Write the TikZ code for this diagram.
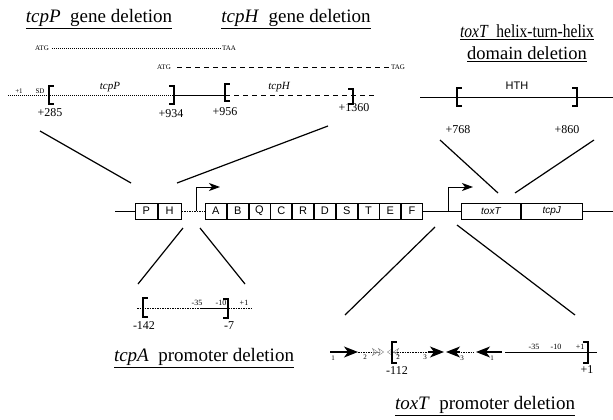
\documentclass[tikz,border=0pt]{standalone}
\usepackage{fontspec}
\setmainfont{Liberation Serif}
\setsansfont{Liberation Sans}
\usetikzlibrary{arrows.meta}
\begin{document}
\begin{tikzpicture}[x=1pt,y=-1pt,
  title/.style={font=\fontsize{19}{22}\selectfont, inner sep=0pt, align=center},
  tiny/.style={font=\fontsize{7}{8}\selectfont, inner sep=0pt},
  lab/.style={font=\fontsize{11}{12}\selectfont\itshape, inner sep=0pt},
  num/.style={font=\fontsize{12}{13}\selectfont, inner sep=0pt},
  prom/.style={font=\fontsize{8}{9}\selectfont, inner sep=0pt},
  gbox/.style={draw, line width=0.8pt, minimum height=16pt, inner sep=0pt, font=\sffamily\fontsize{11}{12}\selectfont, anchor=west},
  brk/.style={line width=1.8pt},
  expand/.style={line width=1.2pt},
  dnaline/.style={line width=0.8pt},
  dotline/.style={line width=0.8pt, dash pattern=on 1.5pt off 1pt},
  bigtip/.style={-{Stealth[length=11pt,width=8pt,inset=3pt]}},
  boldtip/.style={-{Stealth[length=14pt,width=11pt,inset=4pt]}},
  boldtipl/.style={{Stealth[length=14pt,width=11pt,inset=4pt]}-},
  opentip/.style={-{Stealth[open,length=6pt,width=8pt]Stealth[open,length=6pt,width=8pt]}, gray},
  opentipl/.style={{Stealth[open,length=6pt,width=8pt]Stealth[open,length=6pt,width=8pt]}-, gray},
]
\useasboundingbox (0,0) rectangle (613,420);

% ---------- titles ----------
\node[title] (t1) at (99,19) {\underline{\textit{tcpP}\ \ gene deletion}};
\node[title] (t2) at (296,19) {\underline{\textit{tcpH}\ \ gene deletion}};
\node[title, font=\fontsize{18.5}{21}\selectfont] (t3) at (527,43) {\underline{\scalebox{0.84}[1]{\textit{toxT}\ \ helix-turn-helix}}\\[1pt]\underline{domain deletion}};
\node[title] (t4) at (204,358) {\underline{\textit{tcpA}\ \ promoter deletion}};
\node[title] (t5) at (485,406) {\underline{\textit{toxT}\ \ promoter deletion}};

% ---------- tcpP / tcpH region ----------
\node[tiny] (atg1) at (42,48) {ATG};
\node[tiny] (taa) at (229,48) {TAA};
\draw[line width=0.6pt, dash pattern=on 1pt off 1pt] ([xshift=3pt]atg1.east) -- ([xshift=-1pt]taa.west);
\node[tiny] (atg2) at (164,67) {ATG};
\node[tiny] (tag) at (398,67) {TAG};
\draw[line width=0.7pt, dash pattern=on 5pt off 4pt] ([xshift=6pt]atg2.east) -- ([xshift=-2pt]tag.west);

\coordinate (m0) at (8,95);
\coordinate (b285) at (49,95);
\coordinate (b934) at (174,95);
\coordinate (b956) at (225,95);
\coordinate (b1360) at (353,95);
\coordinate (m1) at (375,95);
\draw[line width=0.8pt, dash pattern=on 1pt off 1pt] (m0) -- (b934);
\draw[line width=1pt] (b934) -- (b956);
\draw[line width=0.8pt, dash pattern=on 5pt off 4pt] (b956) -- (m1);
\node[tiny] (p1) at (19,91) {+1};
\node[tiny] (sd) at (40,91) {SD};
\draw[brk] ([xshift=5pt,yshift=-9pt]b285) -- ([yshift=-9pt]b285) -- ([yshift=9pt]b285) -- ([xshift=5pt,yshift=9pt]b285);
\draw[brk] ([xshift=-5pt,yshift=-9pt]b934) -- ([yshift=-9pt]b934) -- ([yshift=9pt]b934) -- ([xshift=-5pt,yshift=9pt]b934);
\draw[brk] ([xshift=5pt,yshift=-6pt]b956) -- ([yshift=-6pt]b956) -- ([yshift=11pt]b956) -- ([xshift=5pt,yshift=11pt]b956);
\draw[brk] ([xshift=-5pt,yshift=-9pt]b1360) -- ([yshift=-9pt]b1360) -- ([yshift=6pt]b1360) -- ([xshift=-5pt,yshift=6pt]b1360);
\node[lab] (ltcpP) at (110,87) {tcpP};
\node[lab] (ltcpH) at (279,87) {tcpH};
\node[num] (n285) at (50,113) {+285};
\node[num] (n934) at (171,114) {+934};
\node[num] (n956) at (225,112) {+956};
\node[num] (n1360) at (354,108) {+1360};

% ---------- HTH region ----------
\coordinate (h0) at (420,97);
\coordinate (h1) at (613,97);
\coordinate (b768) at (457,97);
\coordinate (b860) at (577,97);
\draw[dnaline] (h0) -- (h1);
\draw[brk] ([xshift=5pt,yshift=-9pt]b768) -- ([yshift=-9pt]b768) -- ([yshift=9pt]b768) -- ([xshift=5pt,yshift=9pt]b768);
\draw[brk] ([xshift=-5pt,yshift=-9pt]b860) -- ([yshift=-9pt]b860) -- ([yshift=9pt]b860) -- ([xshift=-5pt,yshift=9pt]b860);
\node[font=\sffamily\fontsize{11}{12}\selectfont, inner sep=0pt] (hth) at (517,86) {HTH};
\node[num] (n768) at (458,130) {+768};
\node[num] (n860) at (567,130) {+860};

% ---------- operon ----------
\coordinate (o0) at (115,211);
\node[gbox, minimum width=22pt] (P) at (135,211) {P};
\node[gbox, minimum width=23pt] (H) at (P.east) {H};
\node[gbox, minimum width=21pt] (A) at (205,211) {A};
\node[gbox, minimum width=21pt] (B) at (A.east) {B};
\node[gbox, minimum width=21pt] (Q) at (B.east) {Q};
\node[gbox, minimum width=21pt] (C) at (Q.east) {C};
\node[gbox, minimum width=21pt] (R) at (C.east) {R};
\node[gbox, minimum width=21pt] (D) at (R.east) {D};
\node[gbox, minimum width=21pt] (S) at (D.east) {S};
\node[gbox, minimum width=21pt] (T) at (S.east) {T};
\node[gbox, minimum width=21pt] (E) at (T.east) {E};
\node[gbox, minimum width=21pt] (F) at (E.east) {F};
\node[gbox, minimum width=59pt, font=\sffamily\itshape\fontsize{10}{12}\selectfont] (toxT) at (461,211) {toxT};
\node[gbox, minimum width=61pt, font=\sffamily\itshape\fontsize{10}{12}\selectfont] (tcpJ) at (toxT.east) {tcpJ};
\coordinate (o1) at (613,211);
\draw[dnaline] (o0) -- (P.west);
\draw[line width=0.7pt, dash pattern=on 1.5pt off 1pt] (H.east) -- (A.west);
\draw[dnaline] (F.east) -- (toxT.west);
\draw[dnaline] (tcpJ.east) -- (o1);
% promoters
\coordinate (pr1) at (196,211);
\coordinate (pr2) at (448,211);
\draw[line width=1pt, bigtip] (pr1) -- (196,187) -- (220,187);
\draw[line width=1pt, bigtip] (pr2) -- (448,187) -- (473,187);

% ---------- expansion lines ----------
\coordinate (eA1) at (40,131);  \coordinate (eA2) at (131,183);
\coordinate (eB1) at (328,126); \coordinate (eB2) at (177,183);
\coordinate (eC1) at (440,140); \coordinate (eC2) at (498,193);
\coordinate (eD1) at (594,140); \coordinate (eD2) at (515,193);
\coordinate (eE1) at (183,228); \coordinate (eE2) at (138,284);
\coordinate (eF1) at (200,228); \coordinate (eF2) at (245,284);
\coordinate (eG1) at (435,227); \coordinate (eG2) at (345,315);
\coordinate (eH1) at (457,225); \coordinate (eH2) at (575,315);
\draw[expand] (eA1) -- (eA2);
\draw[expand] (eB1) -- (eB2);
\draw[expand] (eC1) -- (eC2);
\draw[expand] (eD1) -- (eD2);
\draw[expand] (eE1) -- (eE2);
\draw[expand] (eF1) -- (eF2);
\draw[expand] (eG1) -- (eG2);
\draw[expand] (eH1) -- (eH2);

% ---------- tcpA promoter ----------
\coordinate (a0) at (137,308);
\coordinate (b142) at (143,308);
\coordinate (a35) at (200,308);
\coordinate (b7) at (228,308);
\coordinate (a1) at (253,308);
\draw[dotline] (a0) -- (a35);
\draw[dnaline] (a35) -- (b7);
\draw[dotline] (b7) -- (a1);
\draw[brk] ([xshift=5pt,yshift=-9pt]b142) -- ([yshift=-9pt]b142) -- ([yshift=10pt]b142) -- ([xshift=5pt,yshift=10pt]b142);
\draw[brk] ([xshift=-5pt,yshift=-10pt]b7) -- ([yshift=-10pt]b7) -- ([yshift=9pt]b7) -- ([xshift=-5pt,yshift=9pt]b7);
\node[prom] (q35) at (197,303) {-35};
\node[prom] (q10) at (221,303) {-10};
\node[prom] (q1) at (244,303) {+1};
\node[num] (n142) at (144,326) {-142};
\node[num] (n7) at (229,326) {-7};

% ---------- toxT promoter ----------
\coordinate (r0) at (330,352);
\coordinate (r1) at (358,352);
\coordinate (r2) at (384,352);
\coordinate (b112) at (392,352);
\coordinate (r3) at (387,352);
\coordinate (r4) at (415,352);
\coordinate (r5) at (444,352);
\coordinate (r6) at (446,352);
\coordinate (r7) at (474,352);
\coordinate (r8) at (476,352);
\coordinate (r9) at (502,352);
\coordinate (r10) at (505,352);
\coordinate (b1) at (588,352);
\coordinate (r11) at (597,352);
\draw[line width=1.2pt, boldtip] (r0) -- (r1);
\draw[dotline] (r1) -- (375,352);
\draw[opentip] (373,352) -- (r2);
\draw[opentipl] (r3) -- (397,352);
\draw[dotline] (397,352) -- (r4);
\draw[dotline] (r4) -- (432,352);
\draw[line width=1.2pt, boldtip] (428,352) -- (r5);
\draw[line width=1.2pt, boldtipl] (r6) -- (460,352);
\draw[dotline] (458,352) -- (r7);
\draw[line width=1.2pt, boldtipl] (r8) -- (r9);
\draw[dnaline] (r10) -- (r11);
\draw[brk] ([xshift=5pt,yshift=-11pt]b112) -- ([yshift=-11pt]b112) -- ([yshift=10pt]b112) -- ([xshift=5pt,yshift=10pt]b112);
\draw[brk] ([xshift=-5pt,yshift=-11pt]b1) -- ([yshift=-11pt]b1) -- ([yshift=10pt]b1) -- ([xshift=-5pt,yshift=10pt]b1);
\node[tiny] (l1a) at (333,358) {1};
\node[tiny] (l2a) at (365,357) {2};
\node[tiny] (l2b) at (398,357) {2};
\node[tiny] (l3a) at (425,357) {3};
\node[tiny] (l3b) at (462,358) {3};
\node[tiny] (l1b) at (492,358) {1};
\node[prom] (s35) at (534,347) {-35};
\node[prom] (s10) at (556,347) {-10};
\node[prom] (s1) at (580,347) {+1};
\node[num] (n112) at (397,371) {-112};
\node[num] (n1) at (587,370) {+1};
\end{tikzpicture}
\end{document}
